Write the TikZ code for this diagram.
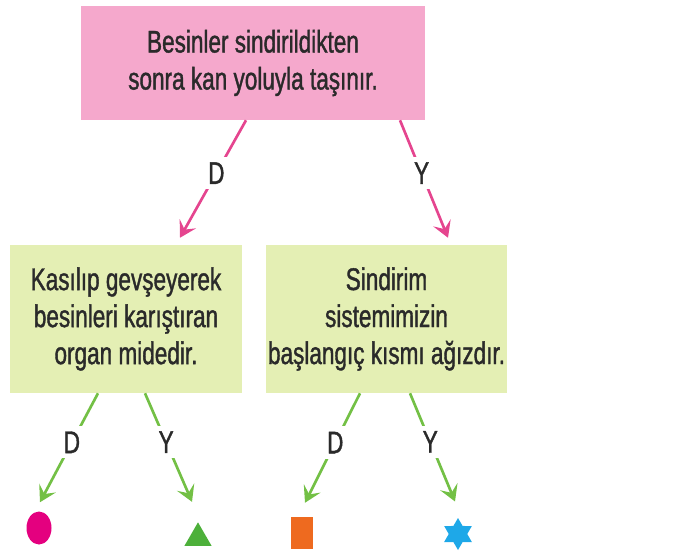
\documentclass[tikz,border=0pt]{standalone}
\usepackage{fontspec}
\setmainfont{Liberation Sans}[FakeStretch=0.72, FakeBold=1.2]
\usetikzlibrary{arrows.meta,shapes.geometric}

\definecolor{boxpink}{HTML}{F5A8CC}
\definecolor{boxgreen}{HTML}{E4EFB4}
\definecolor{linepink}{HTML}{E5458F}
\definecolor{linegreen}{HTML}{73C045}
\definecolor{textgray}{HTML}{2A2A2A}
\definecolor{dotmagenta}{HTML}{E4007F}
\definecolor{trigreen}{HTML}{4DB03A}
\definecolor{sqorange}{HTML}{EE6A1F}
\definecolor{starblue}{HTML}{1EA8E8}

\begin{document}
\begin{tikzpicture}[x=0.75pt, y=-0.75pt,
    txt/.style={text=textgray, font=\fontsize{23.5}{27.75}\selectfont},
    qbox/.style={txt, inner sep=0pt, align=center},
    pinkbox/.style={qbox, fill=boxpink, minimum width=258pt, minimum height=85.5pt},
    greenbox/.style={qbox, fill=boxgreen, minimum height=111pt},
    answer/.style={txt, fill=white, inner sep=4pt, pos=0.45},
    yesno/.style={line width=2pt, -{Stealth[length=12pt, width=14pt, inset=5pt]}},
    pinkline/.style={yesno, draw=linepink},
    greenline/.style={yesno, draw=linegreen}]

            \useasboundingbox (0,0) rectangle (681,553);

            %Statements
            \node[pinkbox] (top) at (253,63) {Besinler sindirildikten\\sonra kan yoluyla taşınır.};
            \node[greenbox, minimum width=174pt] (left) at (126,319) {Kasılıp gevşeyerek\\besinleri karıştıran\\organ midedir.};
            \node[greenbox, minimum width=180.75pt] (right) at (386.5,319) {Sindirim\\sistemimizin\\başlangıç kısmı ağızdır.};

            %Exits
            \node[ellipse, fill=dotmagenta, minimum width=18.75pt, minimum height=24.75pt, inner sep=0pt] (circ) at (39,528) {};
            \node[regular polygon, regular polygon sides=3, fill=trigreen, minimum size=23.5pt, inner sep=0pt] (tri) at (198,538) {};
            \node[rectangle, fill=sqorange, minimum width=16.5pt, minimum height=24pt, inner sep=0pt] (sq) at (302,533) {};
            \node[star, star points=6, star point ratio=1.73, fill=starblue, minimum size=24pt, inner sep=0pt] (hex) at (458,534) {};

            %Edges
                %From first statement
            \draw[pinkline] ([shift={(-7,0)}]top.south) -- node[answer] {D} ([shift={(54,-7)}]left.north);
            \draw[pinkline] ([shift={(147,0)}]top.south) -- node[answer] {Y} ([shift={(61.5,-7)}]right.north);

                %From second row
            \draw[greenline] ([shift={(-28,0)}]left.south) -- node[answer] {D} ([shift={(1,-9)}]circ.north);
            \draw[greenline] ([shift={(19,0)}]left.south) -- node[answer] {Y} ([shift={(-6,-20)}]tri.north);
            \draw[greenline] ([shift={(-26.5,0)}]right.south) -- node[answer] {D} ([shift={(3,-14)}]sq.north);
            \draw[greenline] ([shift={(23.5,0)}]right.south) -- node[answer] {Y} ([shift={(-3,-16)}]hex.north);

        \end{tikzpicture}
\end{document}
